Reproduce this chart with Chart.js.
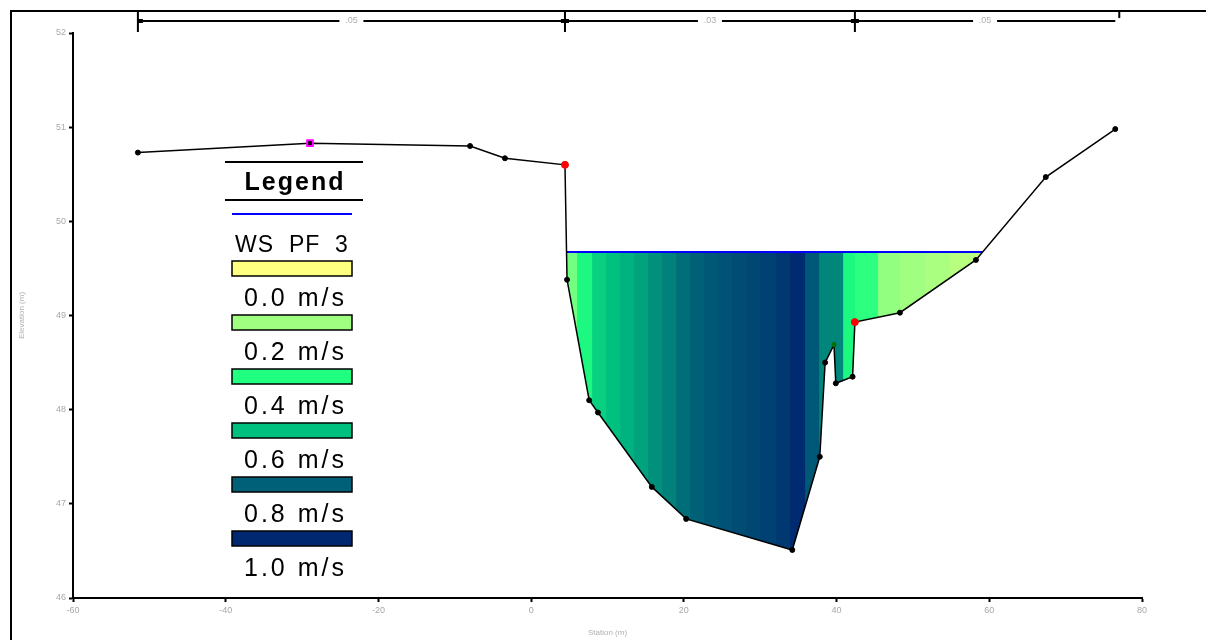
<!DOCTYPE html>
<html>
<head>
<meta charset="utf-8">
<script src="https://cdn.jsdelivr.net/npm/chart.js@4/dist/chart.umd.min.js"></script>
<style>
  html, body { margin: 0; padding: 0; background: #fff; }
  #wrap { position: relative; width: 1206px; height: 640px; }
</style>
</head>
<body>
<div id="wrap"><canvas id="xsChart" width="1206" height="640"></canvas></div>
<script>
// Ground profile (station m, elevation m)
const stations = [-51.5, -28.96, -8.0, -3.43, 4.43, 4.7, 7.6, 8.75, 15.8, 20.3, 34.2, 37.8, 38.5, 39.66, 39.9, 42.1, 42.4, 48.3, 58.25, 67.4, 76.5];
const elevations = [50.73, 50.83, 50.80, 50.67, 50.60, 49.38, 48.10, 47.97, 47.18, 46.84, 46.51, 47.50, 48.50, 48.69, 48.28, 48.35, 48.93, 49.03, 49.59, 50.47, 50.98];

// Bank stations and Manning's n per reach of the section
const bankStations = [4.43, 42.4];
const manningN = [0.05, 0.03, 0.05];

// Water surface WS PF 3
const wsElevation = 49.675;

// Velocity distribution: strip edges (station) and velocity per strip (m/s)
const stripEdges = [4.63, 6.0, 7.97, 9.8, 11.63, 13.47, 15.3, 17.13, 18.97, 20.8, 22.63, 24.47, 26.3, 28.14, 29.97, 32.06, 33.9, 35.86, 37.7, 40.84, 42.41, 45.42, 48.3, 51.58, 54.85, 58.12, 59.13];
const stripVelocity = [0.27, 0.42, 0.55, 0.6, 0.63, 0.66, 0.7, 0.73, 0.77, 0.8, 0.83, 0.85, 0.87, 0.89, 0.91, 0.94, 0.99, 0.83, 0.72, 0.42, 0.38, 0.22, 0.2, 0.18, 0.15, 0.12, 0.07];

// Legend velocity classes
const legendVelocity = [0.0, 0.2, 0.4, 0.6, 0.8, 1.0];

// axis ticks
const xTicks = [-60, -40, -20, 0, 20, 40, 60, 80];
const yTicks = [46, 47, 48, 49, 50, 51, 52];

// colour ramp for velocity
const rampColors = [[255, 255, 128], [160, 255, 128], [32, 255, 128], [0, 192, 128], [0, 96, 120], [0, 40, 112]];
function velColor(v) {
    const t = Math.max(0, Math.min(1, v)) * (rampColors.length - 1);
    const i = Math.min(rampColors.length - 2, Math.floor(t));
    const f = t - i;
    const a = rampColors[i], b = rampColors[i + 1];
    const c = a.map((k, j) => Math.round(k + (b[j] - k) * f));
    return 'rgb(' + c.join(',') + ')';
}

const ground = stations.map((s, i) => ({ x: s, y: elevations[i] }));

const datasets = [{
    label: 'Ground',
    data: ground,
    borderColor: '#000',
    borderWidth: 1.5,
    order: 0,
    fill: false,
    pointStyle: ctx => (ctx.dataIndex === 1 || ctx.dataIndex === 13) ? 'rect' : 'circle',
    pointRadius: ctx => ctx.dataIndex === 1 ? 4 : (bankStations.includes(stations[ctx.dataIndex]) ? 3.5 : 2.5),
    pointBackgroundColor: ctx => {
        const s = stations[ctx.dataIndex];
        if (bankStations.includes(s)) return '#ff0000';
        if (ctx.dataIndex === 13) return '#007000';
        if (ctx.dataIndex === 1) return '#000';
        return '#000';
    },
    pointBorderColor: ctx => ctx.dataIndex === 1 ? '#ff00ff' : (bankStations.includes(stations[ctx.dataIndex]) ? '#ff0000' : (ctx.dataIndex === 13 ? '#007000' : '#000')),
    pointBorderWidth: ctx => ctx.dataIndex === 1 ? 2 : 1
}, {
    label: 'WS PF 3',
    data: [{ x: stripEdges[0], y: wsElevation }, { x: stripEdges[stripEdges.length - 1], y: wsElevation }],
    borderColor: '#0000ff',
    borderWidth: 2,
    pointRadius: 0,
    fill: false,
    order: 1
}];

stripVelocity.forEach((v, i) => {
    datasets.push({
        label: 'strip' + i,
        data: [{ x: stripEdges[i] - 0.05, y: wsElevation }, { x: stripEdges[i + 1] + 0.05, y: wsElevation }],
        borderColor: 'transparent',
        borderWidth: 0,
        pointRadius: 0,
        backgroundColor: velColor(v),
        fill: { target: 0 },
        order: 2
    });
});

// frame, bank station bar and legend
const decorations = {
    id: 'decorations',
    afterDraw(chart) {
        const ctx = chart.ctx;
        const xs = chart.scales.x;
        ctx.save();
        // outer frame
        ctx.strokeStyle = '#000';
        ctx.lineWidth = 2;
        ctx.beginPath();
        ctx.moveTo(11, 640);
        ctx.lineTo(11, 11);
        ctx.lineTo(1206, 11);
        ctx.stroke();

        // bank station bar
        const barY = 21;
        const edges = [stations[0], ...bankStations, stations[stations.length - 1]].map(s => xs.getPixelForValue(s));
        ctx.lineWidth = 2;
        ctx.beginPath();
        ctx.moveTo(edges[0], barY);
        ctx.lineTo(edges[3], barY);
        ctx.stroke();
        ctx.beginPath();
        ctx.moveTo(edges[0], 11);
        ctx.lineTo(edges[0], 32);
        ctx.moveTo(edges[1], 11);
        ctx.lineTo(edges[1], 32);
        ctx.moveTo(edges[2], 11);
        ctx.lineTo(edges[2], 32);
        ctx.moveTo(edges[3] + 4, 11);
        ctx.lineTo(edges[3] + 4, 18);
        ctx.stroke();
        ctx.fillStyle = '#000';
        ctx.fillRect(edges[0], barY - 2, 5, 4);
        ctx.fillRect(edges[1] - 4, barY - 2, 8, 4);
        ctx.fillRect(edges[2] - 4, barY - 2, 8, 4);
        ctx.font = '9px "Liberation Sans"';
        ctx.textAlign = 'center';
        ctx.textBaseline = 'middle';
        manningN.forEach((n, i) => {
            const cx = (edges[i] + edges[i + 1]) / 2;
            ctx.fillStyle = '#fff';
            ctx.fillRect(cx - 12, barY - 4, 24, 8);
            ctx.fillStyle = '#b0b0b0';
            ctx.fillText(n.toFixed(2).replace(/^0/, ''), cx, barY);
        });

        // legend
        const lx0 = 225, lx1 = 363;
        ctx.strokeStyle = '#000';
        ctx.lineWidth = 2;
        ctx.beginPath();
        ctx.moveTo(lx0, 162); ctx.lineTo(lx1, 162);
        ctx.moveTo(lx0, 200); ctx.lineTo(lx1, 200);
        ctx.stroke();
        ctx.fillStyle = '#000';
        ctx.textAlign = 'center';
        ctx.textBaseline = 'alphabetic';
        ctx.font = 'bold 25px "Liberation Sans"';
        ctx.letterSpacing = '2px';
        ctx.fillText('Legend', 295, 190);
        ctx.strokeStyle = '#0000ff';
        ctx.beginPath();
        ctx.moveTo(232, 214); ctx.lineTo(352, 214);
        ctx.stroke();
        ctx.font = '23px "Liberation Sans"';
        ctx.letterSpacing = '1px';
        ctx.fillText('WS  PF  3', 292, 252);
        ctx.font = '25px "Liberation Sans"';
        ctx.letterSpacing = '3px';
        ctx.textAlign = 'left';
        legendVelocity.forEach((v, i) => {
            const y = 261 + i * 54;
            ctx.fillStyle = velColor(v);
            ctx.fillRect(232, y, 120, 15);
            ctx.strokeStyle = '#000';
            ctx.lineWidth = 1.5;
            ctx.strokeRect(232, y, 120, 15);
            ctx.fillStyle = '#000';
            ctx.fillText(v.toFixed(1) + ' m/s', 244, y + 45);
        });
        ctx.restore();
    }
};

const xsCtx = document.getElementById('xsChart').getContext('2d');
const xsChart = new Chart(xsCtx, {
    type: 'line',
    data: { datasets: datasets },
    options: {
        responsive: false,
        animation: false,
        layout: { padding: { top: 33, right: 64, left: 0, bottom: 0 } },
        plugins: {
            legend: { display: false },
            tooltip: { enabled: false }
        },
        scales: {
            x: {
                type: 'linear',
                min: -60,
                max: 80,
                afterBuildTicks: s => { s.ticks = xTicks.map(v => ({ value: v })); },
                afterFit: s => { s.height = 42; },
                ticks: { color: '#a8a8a8', font: { family: 'Liberation Sans', size: 9 }, padding: 3, maxRotation: 0 },
                grid: { drawOnChartArea: false, tickLength: 4, color: '#000', tickWidth: 2 },
                border: { color: '#000', width: 2 },
                title: { display: true, text: 'Station (m)', color: '#b0b0b0', font: { family: 'Liberation Sans', size: 8 }, padding: { top: 0, bottom: 2 } }
            },
            y: {
                min: 46,
                max: 52,
                afterBuildTicks: s => { s.ticks = yTicks.map(v => ({ value: v })); },
                afterFit: s => { s.width = 73; },
                ticks: { color: '#a8a8a8', font: { family: 'Liberation Sans', size: 9 }, padding: 3 },
                grid: { drawOnChartArea: false, tickLength: 4, color: '#000', tickWidth: 2 },
                border: { color: '#000', width: 2 },
                title: { display: true, text: 'Elevation (m)', color: '#b0b0b0', font: { family: 'Liberation Sans', size: 8 }, padding: { top: 17, bottom: 0 } }
            }
        }
    },
    plugins: [decorations]
});
</script>
</body>
</html>
